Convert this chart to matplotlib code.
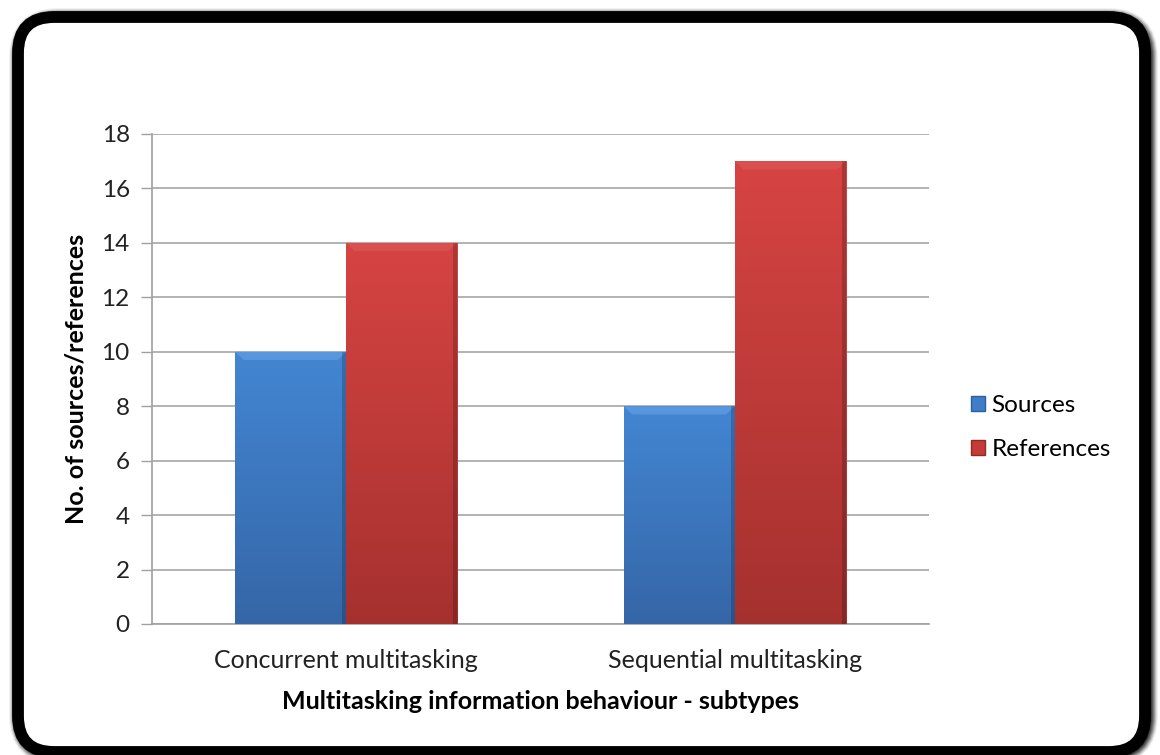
import numpy as np
import matplotlib
matplotlib.use("Agg")
import matplotlib.pyplot as plt
from matplotlib.patches import FancyBboxPatch, Polygon, Patch
from matplotlib.colors import LinearSegmentedColormap

# Data
categories = ["Concurrent multitasking", "Sequential multitasking"]
sources = [10, 8]
references = [14, 17]
series_names = ["Sources", "References"]
yticks = [0, 2, 4, 6, 8, 10, 12, 14, 16, 18]

FONT = "Lato"
plt.rcParams["font.family"] = [FONT, "DejaVu Sans"]

W, H = 1160, 755
fig = plt.figure(figsize=(W / 100, H / 100), dpi=100)

# Background canvas in pixel units for the rounded frame
bg = fig.add_axes([0, 0, 1, 1], zorder=-1)
bg.set_xlim(0, W)
bg.set_ylim(H, 0)
bg.axis("off")

x0, y0, x1, y1 = 18, 17, 1145, 752
# soft shadow around the frame
for i, a in enumerate(np.linspace(0.05, 0.35, 8)):
    lw = 22 - i * 2
    bg.add_patch(FancyBboxPatch((x0 + 2, y0 + 2), (x1 - x0), (y1 - y0),
                                boxstyle="round,pad=0,rounding_size=38",
                                fc="none", ec="black", lw=lw * 0.72, alpha=a))
bg.add_patch(FancyBboxPatch((x0, y0), (x1 - x0), (y1 - y0),
                            boxstyle="round,pad=0,rounding_size=36",
                            fc="white", ec="black", lw=8.5))

# Chart axes
ax = fig.add_axes([152 / W, 1 - 624 / H, (929 - 152) / W, (624 - 134) / H])
ax.set_facecolor("none")

x = np.arange(len(categories))
bw = 0.286

def gradient_bar(xc, h, top, bottom, bevel):
    bars = ax.bar(xc, h, width=bw, color=top, edgecolor="#8a8a8a",
                  linewidth=0.4, zorder=3)
    b = bars[0]
    cmap = LinearSegmentedColormap.from_list("g", [bottom, top])
    grad = np.linspace(0, 1, 256).reshape(-1, 1)
    left = xc - bw / 2
    im = ax.imshow(grad, cmap=cmap, origin="lower", aspect="auto",
                   extent=[left, left + bw, 0, h], zorder=3.5)
    im.set_clip_path(b)
    # bevelled top edge
    dx, dy = 0.022, 0.30
    ax.add_patch(Polygon([[left, h], [left + bw, h], [left + bw - dx, h - dy],
                          [left + dx, h - dy]], closed=True, fc=bevel,
                         ec="none", alpha=0.8, zorder=4))
    # darker right side
    ax.add_patch(Polygon([[left + bw, h], [left + bw, 0], [left + bw - 0.01, 0],
                          [left + bw - 0.01, h]], closed=True, fc="#00000030",
                         ec="none", zorder=4))

for i in range(len(categories)):
    gradient_bar(x[i] - bw / 2, sources[i], "#4386D3", "#3566A7", "#5E9BE0")
    gradient_bar(x[i] + bw / 2, references[i], "#D64442", "#A5312F", "#DA5553")

ax.set_xlim(-0.5, 1.5)
ax.set_ylim(0, 18)
ax.set_yticks(yticks)
ax.set_yticklabels([str(v) for v in yticks], fontsize=17.5, color="#222222")
ax.set_xticks(x)
ax.set_xticklabels(categories, fontsize=18, color="#222222")
ax.tick_params(axis="x", length=0, pad=18)
ax.tick_params(axis="y", length=8, width=1, color="#A0A0A0", pad=8)
ax.yaxis.grid(True, color="#A6A6A6", linewidth=1.2, zorder=0)
ax.set_axisbelow(True)
for s in ["top", "right"]:
    ax.spines[s].set_visible(False)
for s in ["left", "bottom"]:
    ax.spines[s].set_color("#A0A0A0")
    ax.spines[s].set_linewidth(1.2)

ax.set_ylabel("No. of sources/references", fontsize=18, fontweight="bold",
              labelpad=10)
ax.set_xlabel("Multitasking information behaviour - subtypes", fontsize=18,
              fontweight="bold", labelpad=13)

handles = [Patch(facecolor="#3F7DC8", edgecolor="#2d5f9e"),
           Patch(facecolor="#C43C3A", edgecolor="#8f2a28")]
fig.legend(handles, series_names, loc="upper left",
           bbox_to_anchor=(949 / W, 1 - 373 / H), frameon=False,
           fontsize=17.5, handlelength=0.6, handleheight=0.6,
           handletextpad=0.25, labelspacing=0.95)

fig.savefig("out.png", dpi=100)
